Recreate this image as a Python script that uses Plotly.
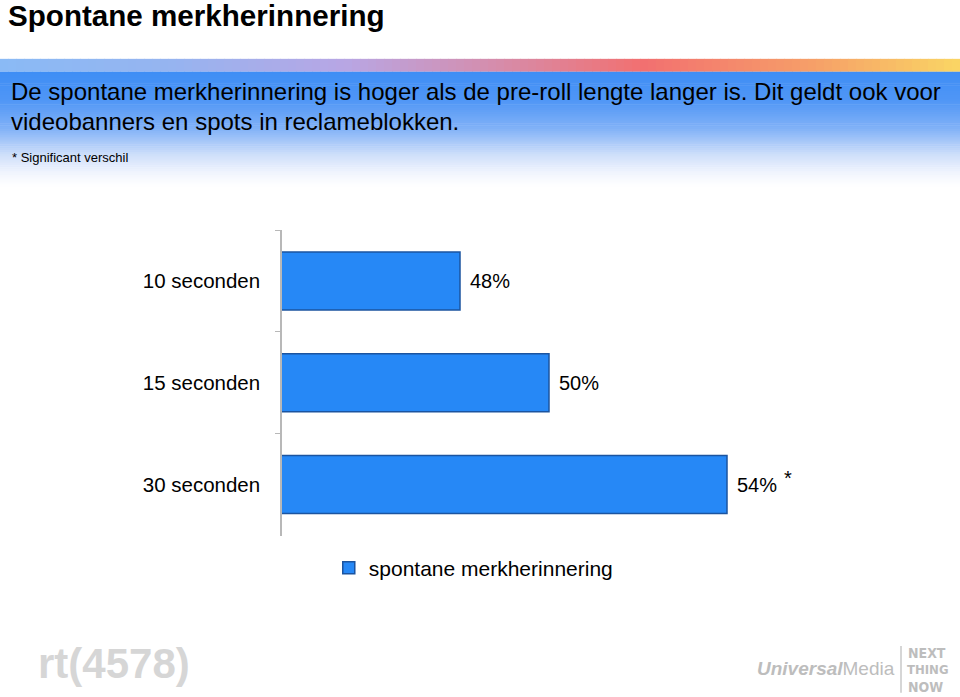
import plotly.graph_objects as go

# ---- data ----
categories = ["10 seconden", "15 seconden", "30 seconden"]
values = [48, 50, 54]
value_labels = ["48%", "50%", "54%"]
significant = [False, False, True]
series_name = "spontane merkherinnering"

title_text = "Spontane merkherinnering"
summary_lines = [
    "De spontane merkherinnering is hoger als de pre-roll lengte langer is. Dit geldt ook voor",
    "videobanners en spots in reclameblokken.",
]
footnote = "* Significant verschil"

W, H = 960, 697
ML, MR, MT, MB = 282, 144, 230, 160
PW, PH = W - ML - MR, H - MT - MB
FONT = "Liberation Sans, Arial, sans-serif"
NARROW = "Liberation Sans Narrow, DejaVu Sans Condensed, sans-serif"


def px(x):
    return (x - ML) / PW


def py(y):
    return (H - MB - y) / PH


def lerp(c1, c2, t):
    return tuple(round(a + (b - a) * t) for a, b in zip(c1, c2))


def grad(stops, t):
    for i in range(len(stops) - 1):
        p0, c0 = stops[i]
        p1, c1 = stops[i + 1]
        if p0 <= t <= p1:
            return lerp(c0, c1, (t - p0) / (p1 - p0) if p1 > p0 else 0)
    return stops[-1][1]


shapes = []
# horizontal colour band
band_stops = [
    (0.0, (138, 186, 245)),
    (0.18, (150, 180, 240)),
    (0.36, (184, 166, 228)),
    (0.52, (214, 140, 170)),
    (0.67, (242, 112, 112)),
    (0.85, (246, 160, 104)),
    (1.0, (250, 214, 100)),
]
N = 120
for i in range(N):
    x0 = W * i / N
    x1 = min(W * (i + 1) / N + 0.6, W)
    c = grad(band_stops, (i + 0.5) / N)
    shapes.append(dict(type="rect", xref="paper", yref="paper",
                       x0=px(x0), x1=px(x1), y0=py(71), y1=py(58),
                       fillcolor="rgb(%d,%d,%d)" % c, line_width=0, layer="below"))
# vertical blue-to-white box
box_stops = [
    (0.0, (62, 142, 245)),
    (0.25, (80, 150, 246)),
    (0.5, (130, 178, 247)),
    (0.72, (205, 222, 250)),
    (0.88, (240, 244, 253)),
    (1.0, (255, 255, 255)),
]
y_top, y_bot = 71, 186
M = 60
for i in range(M):
    ya = y_top + (y_bot - y_top) * i / M
    yb = y_top + (y_bot - y_top) * (i + 1) / M + 0.6
    c = grad(box_stops, (i + 0.5) / M)
    shapes.append(dict(type="rect", xref="paper", yref="paper",
                       x0=px(0), x1=px(W), y0=py(yb), y1=py(ya),
                       fillcolor="rgb(%d,%d,%d)" % c, line_width=0, layer="below"))
# logo separator line
shapes.append(dict(type="line", xref="paper", yref="paper",
                   x0=px(901), x1=px(901), y0=py(695), y1=py(648),
                   line=dict(color="#c8c8c8", width=1.5)))

annotations = []


def page_text(text, x, y, size, color="black", bold=False, xanchor="left", yanchor="middle", family=FONT):
    annotations.append(dict(
        text="<b>%s</b>" % text if bold else text,
        xref="paper", yref="paper", x=px(x), y=py(y),
        xanchor=xanchor, yanchor=yanchor, showarrow=False,
        font=dict(size=size, color=color, family=family)))


page_text(title_text, 6, 14, 29.6, bold=True)
page_text(summary_lines[0], 9, 91, 24)
page_text(summary_lines[1], 9, 121, 24)
page_text(footnote, 10, 157, 13)

# logos (grey text)
page_text("rt(4578)", 36, 666, 42, color="#d6d6d6", bold=True, family=FONT)
page_text("<b><i>Universal</i></b>Media", 897, 671, 19, color="#bdbdbd",
          xanchor="right", family=FONT)
page_text("NEXT", 906, 655, 14, color="#bdbdbd", bold=True, family=NARROW)
page_text("THING", 905, 672, 13, color="#bdbdbd", bold=True, family=NARROW)
page_text("NOW", 906, 689, 14, color="#bdbdbd", bold=True, family=NARROW)

# value labels placed from data
for cat, v, lab, sig in zip(categories, values, value_labels, significant):
    annotations.append(dict(
        x=v, y=cat, xref="x", yref="y", text=lab,
        xanchor="left", yanchor="middle", showarrow=False, xshift=8,
        font=dict(size=20, color="black", family=FONT)))
    if sig:
        annotations.append(dict(
            x=v, y=cat, xref="x", yref="y", text="*",
            xanchor="left", yanchor="middle", showarrow=False, xshift=55, yshift=7,
            font=dict(size=20, color="black", family=FONT)))

fig = go.Figure()
fig.add_trace(go.Bar(
    x=values, y=categories, orientation="h", name=series_name,
    marker=dict(color="#2688f6", line=dict(color="#1b54a0", width=1.5)),
    showlegend=True,
))

fig.update_layout(
    width=W, height=H,
    margin=dict(l=ML, r=MR, t=MT, b=MB),
    paper_bgcolor="white", plot_bgcolor="white",
    bargap=0.43,
    font=dict(family=FONT, color="black"),
    shapes=shapes,
    annotations=annotations,
    showlegend=True,
    legend=dict(orientation="h", xref="container", yref="container",
                x=0.493, xanchor="center", y=1 - 568 / H, yanchor="middle",
                font=dict(size=21, family=FONT), itemwidth=30,
                bgcolor="rgba(0,0,0,0)"),
    xaxis=dict(range=[44, 56], visible=False, showgrid=False, zeroline=False),
    yaxis=dict(autorange="reversed", showline=True, linecolor="#b8b8b8", linewidth=1.5,
               ticks="outside", tickson="boundaries", ticklen=5, tickcolor="#b8b8b8",
               tickfont=dict(size=20.5, family=FONT, color="black"),
               ticklabelstandoff=16, showgrid=False, zeroline=False),
)

fig.write_html("out.html")
